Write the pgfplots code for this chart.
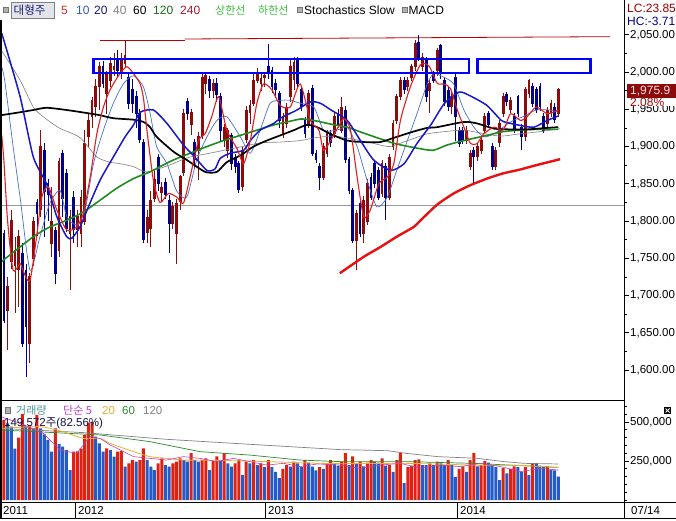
\documentclass[border=0pt]{standalone}
\usepackage{pgfplots}
\pgfplotsset{compat=1.18}
\usepackage{pgfplotstable}
\usepackage{fontspec}
\setmainfont{Liberation Sans}
\newfontfamily\kr{Noto Sans CJK KR}
\newcommand\fs[1]{\fontsize{#1}{#1}\selectfont}
\definecolor{upc}{HTML}{8C0C0C}
\definecolor{dnc}{HTML}{000088}
\definecolor{maA}{HTML}{E02020}
\definecolor{maB}{HTML}{4A6FC8}
\definecolor{maC}{HTML}{1818C8}
\definecolor{maE}{HTML}{1E8C1E}
\definecolor{maF}{HTML}{E81010}
\definecolor{volr}{HTML}{E02010}
\definecolor{volb}{HTML}{225CC8}
\definecolor{vmag}{HTML}{C040C0}
\definecolor{vora}{HTML}{E8B030}
\definecolor{vgrn}{HTML}{2E8B2E}
\definecolor{boxbg}{HTML}{E4E4EC}
\definecolor{tnavy}{HTML}{1E1E6E}
\definecolor{tred}{HTML}{CD3223}
\definecolor{tblue}{HTML}{325ABE}
\definecolor{tnav2}{HTML}{141478}
\definecolor{tgrn}{HTML}{146E14}
\definecolor{tred2}{HTML}{AA1432}
\definecolor{tlgrn}{HTML}{3CBE3C}
\definecolor{lcred}{HTML}{960000}
\definecolor{hcnav}{HTML}{000080}
\definecolor{lastbg}{HTML}{8B0A0A}
\definecolor{lasttx}{HTML}{FFE1E1}
\definecolor{pctred}{HTML}{AA0000}
\definecolor{teal}{HTML}{509696}
\definecolor{vtxt}{HTML}{141446}

\pgfplotstableread{
i O H L C
0 1783 1788 1663 1667
1 1680 1725 1627 1712
2 1745 1815 1735 1801
3 1740 1779 1676 1761
4 1735 1788 1685 1779
5 1757 1770 1631 1636
6 1734 1743 1591 1658
7 1636 1730 1609 1725
8 1750 1805 1740 1800
9 1825 1830 1780 1810
10 1815 1922 1805 1900
11 1895 1905 1779 1840
12 1850 1856 1800 1835
13 1770 1846 1752 1800
14 1788 1792 1716 1730
15 1761 1885 1752 1880
16 1891 1895 1806 1830
17 1864 1870 1785 1790
18 1783 1815 1707 1806
19 1832 1840 1770 1788
20 1788 1815 1765 1806
21 1783 1841 1765 1832
22 1800 1922 1795 1904
23 1913 1945 1900 1935
24 1940 1967 1925 1962
25 1953 1990 1940 1980
26 1980 2013 1949 2007
27 2007 2015 1978 1984
28 1971 2002 1944 1998
29 1989 2020 1980 2011
30 2003 2025 1995 2007
31 2016 2029 1993 2002
32 1998 2025 1990 2016
33 2011 2043 2005 2022
34 1993 2000 1950 1958
35 1976 1990 1945 1958
36 1967 1975 1925 1944
37 1944 1950 1905 1910
38 1905 1910 1770 1775
39 1785 1815 1770 1805
40 1790 1840 1765 1828
41 1830 1868 1825 1856
42 1886 1890 1840 1850
43 1838 1852 1825 1845
44 1852 1858 1830 1836
45 1828 1835 1757 1797
46 1797 1825 1790 1820
47 1783 1830 1743 1823
48 1826 1862 1815 1860
49 1865 1950 1860 1944
50 1960 1965 1935 1944
51 1930 1950 1915 1946
52 1905 1910 1870 1882
53 1895 1920 1855 1913
54 1915 2000 1910 1993
55 1985 2000 1970 1995
56 1990 1995 1965 1975
57 1975 1990 1965 1985
58 1985 1992 1960 1970
59 1967 1972 1908 1922
60 1908 1930 1900 1926
61 1895 1925 1885 1922
62 1915 1918 1868 1877
63 1886 1890 1865 1873
64 1877 1880 1837 1842
65 1846 1900 1840 1895
66 1910 1955 1905 1949
67 1945 1962 1930 1955
68 1958 1998 1955 1989
69 1989 2005 1985 1998
70 1985 1998 1975 1992
71 1992 2000 1980 1995
72 2007 2038 1990 1998
73 2002 2007 1972 1980
74 1985 1990 1965 1976
75 1971 1975 1925 1935
76 1917 1945 1912 1940
77 1931 1958 1925 1953
78 1967 2018 1960 2007
79 1990 2020 1976 2013
80 2016 2020 1978 1984
81 1976 1980 1948 1953
82 1935 1940 1912 1917
83 1931 1976 1925 1971
84 1978 1982 1887 1891
85 1891 1895 1878 1882
86 1873 1878 1841 1859
87 1859 1905 1855 1900
88 1891 1922 1886 1917
89 1917 1922 1900 1905
90 1917 1945 1912 1940
91 1944 1950 1925 1930
92 1922 1967 1918 1953
93 1949 1955 1878 1882
94 1882 1886 1836 1841
95 1841 1845 1770 1774
96 1774 1815 1734 1810
97 1824 1830 1778 1783
98 1783 1833 1770 1828
99 1800 1856 1795 1850
100 1859 1865 1828 1832
101 1877 1882 1845 1850
102 1868 1873 1828 1832
103 1837 1882 1832 1877
104 1873 1878 1801 1832
105 1832 1890 1828 1886
106 1900 1935 1895 1931
107 1935 1971 1930 1967
108 1967 1993 1962 1989
109 1989 1993 1971 1976
110 1980 1993 1975 1989
111 1993 2011 1988 2007
112 2007 2043 2002 2038
113 2040 2049 2015 2020
114 2007 2025 2002 2020
115 2016 2020 1960 1967
116 1975 1990 1945 1985
117 1998 2002 1985 1989
118 2002 2032 1995 2029
119 2036 2038 1990 1998
120 1989 1993 1955 1960
121 1975 1980 1948 1953
122 1953 1975 1944 1967
123 1993 1998 1908 1940
124 1922 1926 1900 1904
125 1922 1926 1903 1908
126 1908 1927 1903 1922
127 1873 1895 1868 1891
128 1895 1900 1848 1886
129 1886 1905 1880 1900
130 1895 1912 1890 1908
131 1922 1945 1917 1940
132 1944 1948 1925 1930
133 1900 1905 1868 1873
134 1873 1900 1868 1895
135 1905 1935 1900 1931
136 1944 1972 1940 1967
137 1970 1973 1955 1960
138 1950 1966 1945 1962
139 1940 1945 1918 1922
140 1967 1969 1940 1944
141 1926 1930 1895 1913
142 1913 1980 1908 1976
143 1971 1990 1965 1989
144 1980 1985 1953 1958
145 1976 1980 1945 1949
146 1980 1985 1948 1953
147 1940 1945 1918 1922
148 1931 1953 1926 1949
149 1945 1962 1940 1958
150 1953 1958 1932 1936
151 1944 1978 1940 1976
}\candles

\pgfplotstableread{
i v up
0 513000 1
1 491000 0
2 470000 0
3 330000 0
4 400000 1
5 551000 1
6 470000 0
7 480000 1
8 459000 0
9 545000 1
10 459000 0
11 420000 0
12 385000 0
13 310000 0
14 459000 1
15 360000 0
16 342000 0
17 320000 0
18 192000 0
19 310000 1
20 312000 1
21 330000 1
22 417000 1
23 495000 1
24 500000 1
25 406000 0
26 363000 0
27 310000 0
28 331000 1
29 320000 0
30 278000 0
31 310000 1
32 315000 1
33 214000 0
34 235000 1
35 256000 1
36 246000 0
37 256000 1
38 331000 1
39 256000 0
40 214000 0
41 192000 0
42 235000 1
43 267000 1
44 224000 0
45 214000 0
46 235000 1
47 246000 1
48 267000 1
49 256000 0
50 246000 0
51 300000 1
52 256000 0
53 246000 0
54 256000 1
55 267000 1
56 192000 0
57 250000 1
58 280000 1
59 256000 0
60 300000 1
61 235000 0
62 214000 0
63 235000 1
64 256000 1
65 160000 0
66 246000 1
67 235000 0
68 256000 1
69 224000 0
70 235000 1
71 210000 0
72 256000 1
73 210000 0
74 180000 0
75 140000 0
76 200000 1
77 224000 1
78 214000 0
79 246000 1
80 235000 0
81 210000 0
82 256000 1
83 240000 0
84 214000 0
85 190000 0
86 210000 1
87 200000 0
88 235000 1
89 256000 1
90 235000 0
91 220000 0
92 246000 1
93 300000 1
94 224000 0
95 280000 1
96 235000 0
97 246000 1
98 215000 0
99 240000 1
100 256000 1
101 246000 0
102 240000 0
103 267000 1
104 220000 0
105 224000 1
106 180000 0
107 256000 1
108 300000 1
109 109000 0
110 210000 1
111 220000 1
112 256000 1
113 260000 1
114 224000 0
115 224000 0
116 235000 1
117 224000 0
118 246000 1
119 235000 0
120 224000 0
121 256000 1
122 224000 0
123 148000 0
124 200000 1
125 215000 1
126 180000 0
127 256000 1
128 300000 1
129 215000 0
130 224000 1
131 250000 1
132 240000 0
133 224000 0
134 210000 0
135 128000 0
136 205000 1
137 170000 0
138 200000 1
139 215000 1
140 210000 0
141 180000 0
142 210000 1
143 160000 0
144 235000 1
145 230000 0
146 220000 0
147 210000 0
148 215000 1
149 195000 0
150 190000 0
151 149572 0
}\vols

\pgfplotsset{
  wick/.style={draw=none, mark=none, forget plot,
    error bars/y dir=both, error bars/y explicit, error bars/error mark=none,
    error bars/error bar style={draw=#1, line width=0.8pt}},
  body/.style={draw=none, mark=none, forget plot,
    error bars/y dir=both, error bars/y explicit, error bars/error mark=none,
    error bars/error bar style={draw=#1, line width=2.8pt}},
}

\begin{document}
\begin{tikzpicture}
\useasboundingbox (0pt,0pt) rectangle (676pt,520pt);
\fill[white] (0pt,0pt) rectangle (676pt,520pt);

% ---------------- price panel ----------------
\begin{axis}[at={(1pt,123pt)}, anchor=south west, scale only axis,
  width=623pt, height=375pt,
  xmin=-0.8, xmax=168.9, ymin=1563.9, ymax=2067.1,
  axis line style={draw=none}, xtick=\empty,
  ytick={1600,1650,...,2050}, minor tick num=1,
  ytick pos=right, yticklabel pos=right, tick align=outside,
  major tick length=5pt, minor tick length=3pt,
  every tick/.style={black, line width=0.7pt},
  scaled y ticks=false,
  /pgf/number format/assume math mode=true,
  yticklabel style={font=\fs{11.5}, inner sep=1pt, text=black,
    /pgf/number format/.cd, fixed, fixed zerofill, precision=2, 1000 sep={,}},
]
\addplot[gray!80, line width=0.8pt] coordinates {(-0.8,1821.5) (168.9,1821.5)};
\addplot[red!75!black, line width=0.8pt] coordinates {(26.2,2043) (49.3,2043)};
\addplot[red!75!black, line width=0.8pt] coordinates {(49.3,2044.3) (165.1,2047.4)};

\addplot[restrict expr to domain={\thisrow{C}-\thisrow{O}}{0:3000}, wick=upc]
  table[x=i, y=C, y error plus expr=\thisrow{H}-\thisrow{C}, y error minus expr=\thisrow{C}-\thisrow{L}] {\candles};
\addplot[restrict expr to domain={\thisrow{C}-\thisrow{O}}{-3000:-0.001}, wick=dnc]
  table[x=i, y=C, y error plus expr=\thisrow{H}-\thisrow{C}, y error minus expr=\thisrow{C}-\thisrow{L}] {\candles};
\addplot[restrict expr to domain={\thisrow{C}-\thisrow{O}}{0:3000}, body=upc]
  table[x=i, y expr=0.5*(\thisrow{O}+\thisrow{C}), y error expr=0.5*abs(\thisrow{C}-\thisrow{O})+0.6] {\candles};
\addplot[restrict expr to domain={\thisrow{C}-\thisrow{O}}{-3000:-0.001}, body=dnc]
  table[x=i, y expr=0.5*(\thisrow{O}+\thisrow{C}), y error expr=0.5*abs(\thisrow{C}-\thisrow{O})+0.6] {\candles};

\addplot[gray, line width=0.6pt, smooth, tension=0.4] coordinates {
(-0.8,2030) (4.4,1989) (8,1953) (10.7,1940) (15,1925) (20.7,1912) (25.3,1886) (28.9,1879) (31.6,1877)
(35.3,1873) (38.9,1866) (45,1875) (50,1885) (55,1890) (60,1895) (65,1900) (70,1905) (75.3,1906)
(80.7,1908) (85,1912) (90,1914) (95,1910) (100,1905) (105,1900) (110,1908) (115.3,1917) (120,1920)
(125.3,1922) (130,1918) (135.3,1914) (140.5,1917) (146,1920) (151.5,1924)};
\addplot[maB, line width=0.7pt, smooth, tension=0.4] coordinates {
(-0.8,2010) (0.2,1989) (2.5,1900) (4.4,1832) (7.1,1734) (9.8,1779) (12.5,1824) (15.3,1841) (17.1,1806)
(19.8,1795) (22.1,1815) (24.4,1877) (27.1,1922) (29.8,1958) (32.5,1984) (35.3,1995) (38,1980)
(39.8,1945) (41.6,1900) (44.4,1877) (47.1,1840) (49.8,1832) (52.5,1882) (55.3,1913) (58,1935)
(60.7,1940) (64.4,1913) (67.1,1891) (69.8,1922) (72.5,1958) (75.3,1962) (78,1962) (80.7,1958)
(84.4,1953) (87.1,1922) (90.7,1922) (93.5,1926) (96.2,1900) (98.9,1855) (101.6,1819) (104.4,1832)
(107,1868) (109.6,1904) (112.5,1944) (115.3,1984) (117.1,1998) (119.8,1993) (122.5,1984) (125.3,1949)
(128,1926) (130.7,1913) (133.5,1917) (136,1926) (138.7,1935) (141.4,1940) (145,1949) (148.6,1949) (151,1946)};
\addplot[maE, line width=1.6pt, smooth, tension=0.4] coordinates {
(-0.8,1745) (8,1779) (12.5,1792) (17.1,1801) (21.6,1812) (26.2,1828) (30.7,1844) (35.3,1857)
(39.8,1866) (42.5,1873) (46.2,1882) (50.7,1891) (55.3,1900) (59.8,1908) (64.4,1915) (68.9,1922)
(73.5,1929) (78,1934) (81,1937) (84.4,1935) (89.1,1930) (93.5,1926) (98,1918) (106.5,1904)
(113.5,1897) (117,1895) (120.7,1902) (125.3,1908) (131.6,1915) (136,1920) (140.5,1922) (145,1923) (151,1923)};
\addplot[black, line width=1.7pt, smooth, tension=0.4] coordinates {
(-0.8,1942) (4.4,1946) (8,1949) (11.6,1952) (17.1,1949) (22.5,1945) (26.2,1942) (29.8,1938)
(35.3,1936) (38,1933) (39.8,1926) (41.6,1913) (46.2,1893) (49.8,1882) (54.8,1866) (58,1866)
(60.7,1879) (64.4,1888) (68,1900) (71.6,1908) (75.3,1915) (79,1922) (82.5,1929) (85.3,1926)
(88.9,1917) (93.5,1908) (98,1906) (102.5,1906) (107,1913) (111.5,1920) (115.3,1925) (118,1926)
(125.3,1933) (128.9,1931) (133.5,1924) (138,1923) (142.5,1923) (148,1925) (151,1926)};
\addplot[maC, line width=1.5pt, smooth, tension=0.4] coordinates {
(-0.6,2052) (4.4,1967) (8,1886) (11.6,1850) (14.4,1806) (17.1,1779) (18.5,1777) (20.7,1792)
(23,1819) (26.2,1855) (29.8,1886) (33,1913) (35.3,1929) (37.1,1946) (40.7,1949) (44.4,1931)
(48.9,1902) (51.6,1888) (55.3,1868) (57.5,1870) (58.9,1884) (61.6,1891) (65.3,1895) (67.1,1908)
(69.8,1922) (73.5,1931) (75.3,1938) (79.8,1949) (83.5,1960) (86.2,1958) (89.1,1949) (93.5,1935)
(97.1,1908) (100.7,1882) (105.3,1868) (109,1877) (112.5,1904) (116.4,1930) (120,1958) (124,1973)
(127,1968) (131.6,1955) (135.5,1935) (138,1931) (141,1928) (144.4,1926) (148,1935) (151,1941)};
\addplot[maA, line width=1.1pt, smooth, tension=0.4] coordinates {
(-0.6,1915) (0,1880) (1,1800) (2.5,1734) (4.4,1743) (5.5,1730) (7.1,1720) (8.9,1779) (10.3,1832)
(12.1,1846) (14.4,1815) (17.1,1788) (19.8,1792) (21.6,1810) (23.5,1859) (25.3,1917) (27.1,1953)
(28.9,1976) (31.6,1998) (33.5,2007) (35.3,1998) (37.1,1984) (38,1965) (39,1920) (40.7,1855)
(42.5,1825) (44.8,1837) (47.1,1832) (48.9,1824) (50.7,1859) (53,1908) (54.8,1917) (56.6,1940)
(58.5,1967) (60.7,1922) (63.5,1897) (65.3,1877) (67.1,1908) (68.9,1958) (70.7,1984) (73,1976)
(75.3,1955) (78,1953) (80.7,1984) (83.5,1935) (85.8,1922) (87.1,1895) (89.8,1915) (92.5,1937)
(94.4,1922) (96.2,1859) (98,1806) (99.8,1815) (102.1,1850) (104.4,1859) (106.2,1877) (108,1935)
(110.7,1980) (113.5,2010) (115.8,2008) (118,1985) (119.8,1984) (121.6,1978) (123.5,1949)
(125.3,1926) (127.1,1904) (128.9,1904) (130.7,1917) (133.5,1926) (136,1922) (138,1944)
(140.7,1935) (142.5,1940) (145,1953) (148,1944) (151,1949)};
\addplot[maF, line width=2.4pt, smooth, tension=0.4] coordinates {
(91.5,1730) (98,1752) (102.5,1765) (107,1779) (111.6,1792) (113.5,1801) (118,1822) (122.5,1837)
(127,1848) (131.6,1857) (136,1864) (140.5,1869) (145,1875) (151.5,1883)};
\draw[blue, line width=2.8pt] (axis cs:24.3,1998.7) rectangle (axis cs:126.7,2017.4);
\draw[blue, line width=2.8pt] (axis cs:128.9,1998.7) rectangle (axis cs:159.7,2017.4);
\end{axis}

% ---------------- volume panel ----------------
\begin{axis}[at={(1pt,18pt)}, anchor=south west, scale only axis,
  width=623pt, height=102pt,
  xmin=-0.8, xmax=168.9, ymin=-12820, ymax=641000,
  axis line style={draw=none}, xtick=\empty,
  ytick={250000,500000},
  minor ytick={0,50000,100000,150000,200000,300000,350000,400000,450000,550000,600000},
  ytick pos=right, yticklabel pos=right, tick align=outside,
  major tick length=5pt, minor tick length=3pt,
  every tick/.style={black, line width=0.7pt},
  scaled y ticks=false,
  /pgf/number format/assume math mode=true,
  yticklabel style={font=\fs{11.5}, inner sep=1pt,
    /pgf/number format/.cd, fixed, precision=0, 1000 sep={,}},
]
\addplot[ybar, bar width=3pt, bar shift=0pt, fill=volr, draw=none,
  restrict expr to domain={\thisrow{up}}{0.5:1.5}] table[x=i, y=v] {\vols};
\addplot[ybar, bar width=3pt, bar shift=0pt, fill=volb, draw=none,
  restrict expr to domain={\thisrow{up}}{-0.5:0.5}] table[x=i, y=v] {\vols};
\addplot[gray, line width=0.7pt] coordinates {
(-0.8,459000) (21.6,432000) (44.3,389000) (67,357000) (91.6,323000) (104.6,316000) (109.6,299000)
(118.2,278000) (129,267000) (136.3,246000) (141.7,235000) (151,231000)};
\addplot[vgrn, line width=0.7pt] coordinates {
(-0.8,449000) (26.2,417000) (39.8,374000) (53.4,310000) (67,288000) (80.7,256000) (91.6,246000)
(109.6,246000) (127.8,235000) (151,209000)};
\addplot[vora, line width=0.8pt, smooth, tension=0.4] coordinates {
(-0.8,459000) (9.8,470000) (16.2,437000) (21.6,395000) (26.2,395000) (28.9,363000) (35.3,310000)
(39.8,278000) (44.3,267000) (48.9,256000) (53.4,256000) (62.5,252000) (71.6,246000) (80.7,239000)
(91.6,233000) (109.6,235000) (127.8,224000) (140,222000) (151,209000)};
\addplot[vmag, line width=0.6pt] coordinates {
(-0.8,534000) (4.4,491000) (10.7,427000) (15.3,320000) (19.8,299000) (23.4,406000) (26.2,395000)
(28.9,353000) (35.3,278000) (39.8,267000) (44.3,256000) (48.9,278000) (53.4,267000) (57.9,246000)
(62.5,267000) (67,246000) (71.6,224000) (76.2,235000) (80.7,214000) (85.3,231000) (91.6,224000)
(97,203000) (102.5,224000) (108,235000) (113.4,203000) (118.9,224000) (124.3,214000) (129.8,235000)
(135.3,214000) (140.7,182000) (146.2,203000) (151,192000)};
\end{axis}

% ---------------- frame, labels (pixel coordinates, y downwards) ----------------
\begin{scope}[x=1pt, y=-1pt, shift={(0pt,520pt)}]
\draw[black, line width=1.5pt] (0.75,20) -- (0.75,519);
\draw[black, line width=1pt] (624,0) -- (624,519);
\draw[black, line width=1pt] (0,400) -- (624,400);
\draw[black, line width=1pt] (0,502) -- (676,502);
\draw[black, line width=1pt] (0,518.5) -- (676,518.5);
\foreach \xx in {75,265,457} \draw[black, line width=1pt] (\xx,502) -- (\xx,519);

\draw[fill=gray!60, draw=gray!90!black, line width=0.5pt] (3,7) rectangle (8,12.5);
\draw[fill=boxbg, draw=gray, line width=0.6pt] (11,2) rectangle (54,18);
\node[anchor=west, inner sep=0, text=tnavy] at (13.5,10) {\kr\fs{11.5}대형주};
\node[anchor=west, inner sep=0, text=tred] at (61,10.5) {\fs{12}5};
\node[anchor=west, inner sep=0, text=tblue] at (76,10.5) {\fs{12}10};
\node[anchor=west, inner sep=0, text=tnav2] at (94,10.5) {\fs{12}20};
\node[anchor=west, inner sep=0, text=gray] at (113,10.5) {\fs{12}40};
\node[anchor=west, inner sep=0, text=black] at (133,10.5) {\fs{12}60};
\node[anchor=west, inner sep=0, text=tgrn] at (153,10.5) {\fs{12}120};
\node[anchor=west, inner sep=0, text=tred2] at (180,10.5) {\fs{12}240};
\node[anchor=west, inner sep=0, text=tlgrn] at (215,10) {\kr\fs{11}상한선};
\node[anchor=west, inner sep=0, text=tlgrn] at (258,10) {\kr\fs{11}하한선};
\draw[fill=gray!60, draw=gray!90!black, line width=0.5pt] (297.5,7) rectangle (302.5,12.5);
\node[anchor=west, inner sep=0, text=black] at (304,10.5) {\fs{12}Stochastics Slow};
\draw[fill=gray!60, draw=gray!90!black, line width=0.5pt] (402,7) rectangle (407,12.5);
\node[anchor=west, inner sep=0, text=black] at (408.5,10.5) {\fs{12}MACD};

\node[anchor=west, inner sep=0, text=lcred] at (627,8) {\fs{12}LC:23.85};
\node[anchor=west, inner sep=0, text=hcnav] at (627,21) {\fs{12}HC:-3.71};
\fill[lastbg] (627,84.5) rectangle (676,98);
\node[anchor=west, inner sep=0, text=lasttx] at (630,91.5) {\fs{12}1,975.9};
\fill[white] (628,98.5) rectangle (676,106);
\node[anchor=west, inner sep=0, text=pctred] at (630,102) {\fs{12}2.08\%};

\draw[fill=gray!60, draw=gray!90!black, line width=0.5pt] (5,407.5) rectangle (10,413);
\node[anchor=west, inner sep=0, text=teal] at (16,410) {\kr\fs{11}거래량};
\node[anchor=west, inner sep=0, text=vmag] at (63,410) {\kr\fs{11}단순 5};
\node[anchor=west, inner sep=0, text=vora] at (102,410.5) {\fs{11.5}20};
\node[anchor=west, inner sep=0, text=vgrn] at (122,410.5) {\fs{11.5}60};
\node[anchor=west, inner sep=0, text=gray] at (143,410.5) {\fs{11.5}120};
\node[anchor=west, inner sep=0, text=vtxt] at (4,423.5) {\fs{11.5}149,572{\kr 주}(82.56\%)};
\fill[black] (664,407) rectangle (671,414);
\draw[white, line width=0.8pt] (665.5,408.5) -- (669.5,412.5) (665.5,412.5) -- (669.5,408.5);

\node[anchor=west, inner sep=0] at (3,510.5) {\fs{11.5}2011};
\node[anchor=west, inner sep=0] at (78,510.5) {\fs{11.5}2012};
\node[anchor=west, inner sep=0] at (268,510.5) {\fs{11.5}2013};
\node[anchor=west, inner sep=0] at (460,510.5) {\fs{11.5}2014};
\node[anchor=west, inner sep=0] at (631,510.5) {\fs{11.5}07/14};
\end{scope}
\end{tikzpicture}
\end{document}
